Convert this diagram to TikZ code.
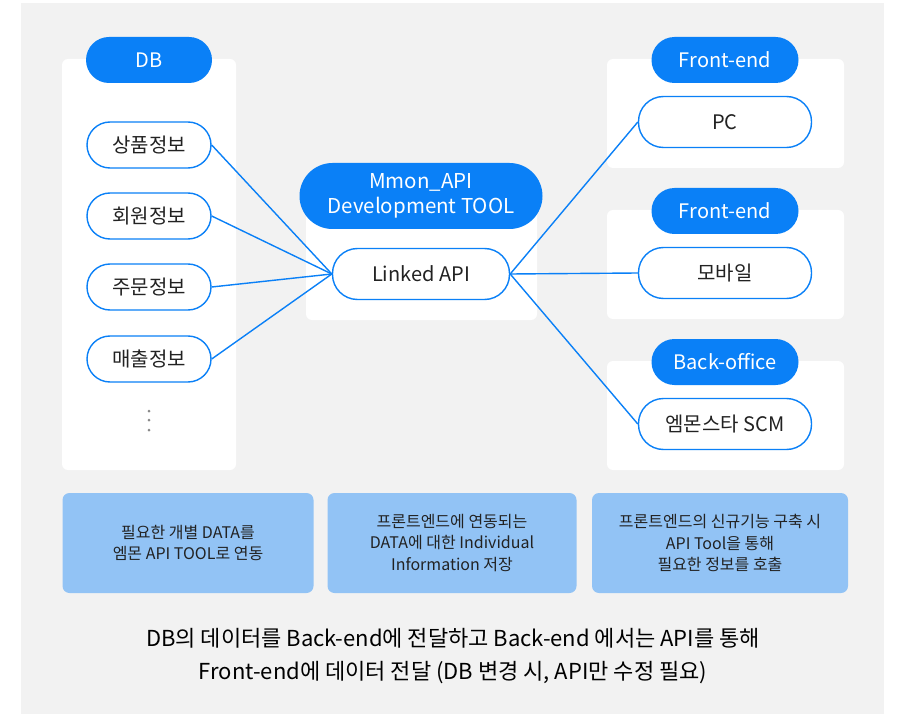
\documentclass[tikz,border=0pt]{standalone}
\usepackage{fontspec}
\setmainfont{Noto Sans CJK KR}
\usetikzlibrary{positioning}
\definecolor{mblue}{HTML}{0A80F7}
\definecolor{lblue}{HTML}{92C3F5}
\definecolor{bggray}{HTML}{F2F2F2}
\definecolor{ink}{HTML}{222222}
\definecolor{dotgray}{HTML}{888888}

\tikzset{
  tag/.style={fill=mblue, text=white, rounded corners=23pt, minimum height=46pt, inner sep=0pt,
    font=\fontsize{20}{24}\selectfont, align=center},
  item/.style={draw=mblue, line width=1.4pt, fill=white, rounded corners=23pt, minimum height=46pt,
    inner sep=0pt, text=ink, font=\fontsize{20}{24}\selectfont},
  panel/.style={fill=white, rounded corners=6pt},
  note/.style={fill=lblue, rounded corners=7pt, minimum width=251pt, minimum height=100pt, inner sep=0pt,
    align=center, text=ink, font=\fontsize{16}{21.5}\selectfont},
  link/.style={mblue, line width=1.4pt}
}

\begin{document}
\begin{tikzpicture}[x=1pt, y=-1pt]
    \useasboundingbox (0,0) rectangle (897,714);
    \fill[bggray] (21,3) rectangle (884,714);

    \fill[panel] (62,59) rectangle (236,470);
    \fill[panel] (306,190) rectangle (537,320);
    \fill[panel] (607,59) rectangle (844,168);
    \fill[panel] (607,210) rectangle (844,319);
    \fill[panel] (607,361) rectangle (844,470);

    \node[tag, minimum width=126pt] (db) at (149,60) {DB};
    \node[item, minimum width=124pt] (goods) at (149,145) {상품정보};
    \node[item, minimum width=124pt] (member) at (149,216) {회원정보};
    \node[item, minimum width=124pt] (order) at (149,287) {주문정보};
    \node[item, minimum width=124pt] (sales) at (149,359) {매출정보};
    \foreach \y in {411,420,430}
        \fill[dotgray] (149,\y) circle (1.5pt);

    \node[tag, minimum width=243pt, minimum height=66pt, rounded corners=33pt,
          font=\fontsize{20.5}{25}\selectfont] (tool) at (421,196) {Mmon\_API\\Development TOOL};
    \node[item, minimum width=177pt, minimum height=51pt, rounded corners=25pt] (api) at (421,274) {Linked API};

    \node[tag, minimum width=147pt] (front1) at (725,60) {Front-end};
    \node[tag, minimum width=147pt] (front2) at (725,211) {Front-end};
    \node[tag, minimum width=147pt] (back) at (725,362) {Back-office};
    \node[item, minimum width=173pt, minimum height=51pt, rounded corners=25pt] (pc) at (725,122) {PC};
    \node[item, minimum width=173pt, minimum height=51pt, rounded corners=25pt] (mobile) at (725,273) {모바일};
    \node[item, minimum width=173pt, minimum height=51pt, rounded corners=25pt] (scm) at (725,424) {엠몬스타 SCM};

    \draw[link] (goods.east) -- (api.west);
    \draw[link] (member.east) -- (api.west);
    \draw[link] (order.east) -- (api.west);
    \draw[link] (sales.east) -- (api.west);
    \draw[link] (api.east) -- (pc.west);
    \draw[link] (api.east) -- (mobile.west);
    \draw[link] (api.east) -- (scm.west);

    \node[note] (n1) at (188,543) {필요한 개별 DATA를\\엠몬 API TOOL로 연동};
    \node[note, minimum width=249pt] (n2) at (452,543) {프론트엔드에 연동되는\\DATA에 대한 Individual\\Information 저장};
    \node[note, minimum width=256pt] (n3) at (720,543) {프론트엔드의 신규기능 구축 시\\API Tool을 통해\\필요한 정보를 호출};

    \node[text=black, align=center, font=\fontsize{22}{33}\selectfont] (caption) at (453,656)
        {DB의 데이터를 Back-end에 전달하고 Back-end 에서는 API를 통해\\Front-end에 데이터 전달 (DB 변경 시, API만 수정 필요)};
\end{tikzpicture}
\end{document}
